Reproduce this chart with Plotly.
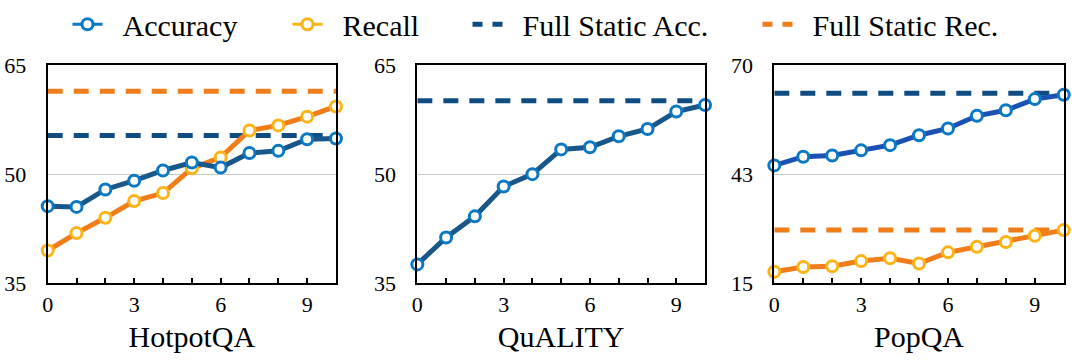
import plotly.graph_objects as go

steps = list(range(11))
tick_labels_x = ["0", "", "", "3", "", "", "6", "", "", "9", ""]

hotpot_acc = [45.6, 45.5, 47.9, 49.1, 50.5, 51.6, 50.9, 52.9, 53.2, 54.8, 54.9]
hotpot_rec = [39.5, 41.9, 44.0, 46.3, 47.4, 50.8, 52.3, 56.0, 56.7, 57.9, 59.3]
hotpot_full_acc = 55.3
hotpot_full_rec = 61.4

quality_acc = [37.6, 41.3, 44.2, 48.3, 50.0, 53.4, 53.7, 55.2, 56.2, 58.6, 59.5]
quality_full_acc = 60.1

popqa_acc = [44.7, 46.9, 47.2, 48.5, 49.8, 52.3, 54.0, 57.2, 58.6, 61.4, 62.5]
popqa_rec = [17.9, 19.1, 19.3, 20.6, 21.3, 20.0, 22.8, 24.2, 25.4, 27.0, 28.4]
popqa_full_acc = 62.9
popqa_full_rec = 28.4

panel_titles = ["HotpotQA", "QuALITY", "PopQA"]
y_ranges = [[35, 65], [35, 65], [15, 70]]
y_tickvals = [[35, 50, 65], [35, 50, 65], [15, 42.5, 70]]
y_ticktext = [["35", "50", "65"], ["35", "50", "65"], ["15", "43", "70"]]

legend_names = ["Accuracy", "Recall", "Full Static Acc.", "Full Static Rec."]

ACC_LINE = "#17578a"
ACC_LINE_POP = "#1a52b3"
ACC_MARK = "#0a78c2"
REC_LINE = "#f07d1a"
REC_MARK = "#fcb316"
FULL_ACC = "#0f4c81"
FULL_REC = "#f07d1a"
FONT = "Liberation Serif"

domains = [[0.0445, 0.3134], [0.3893, 0.6577], [0.7223, 0.9923]]
ydom = [0.2152, 0.82]

fig = go.Figure()

def series(i, vals, line_c, mark_c):
    ax = "" if i == 0 else str(i + 1)
    fig.add_trace(go.Scatter(
        x=steps, y=vals, mode="lines+markers", showlegend=False,
        line=dict(color=line_c, width=5),
        marker=dict(size=11, color="white", line=dict(color=mark_c, width=3)),
        cliponaxis=False, xaxis="x" + ax, yaxis="y" + ax))

def full(i, val, c):
    ax = "" if i == 0 else str(i + 1)
    fig.add_trace(go.Scatter(
        x=[steps[0], steps[-1]], y=[val, val], mode="lines", showlegend=False,
        line=dict(color=c, width=5, dash="15px,11px"),
        xaxis="x" + ax, yaxis="y" + ax))

full(0, hotpot_full_rec, FULL_REC)
full(0, hotpot_full_acc, FULL_ACC)
full(1, quality_full_acc, FULL_ACC)
full(2, popqa_full_acc, FULL_ACC)
full(2, popqa_full_rec, FULL_REC)

series(0, hotpot_rec, REC_LINE, REC_MARK)
series(0, hotpot_acc, ACC_LINE, ACC_MARK)
series(1, quality_acc, ACC_LINE, ACC_MARK)
series(2, popqa_rec, REC_LINE, REC_MARK)
series(2, popqa_acc, ACC_LINE_POP, ACC_MARK)

leg_x = [67.5 / 1072, 287.5 / 1072, 467.5 / 1072, 757.5 / 1072]
leg_specs = [
    dict(mode="lines+markers", line=dict(color=ACC_MARK, width=3),
         marker=dict(size=11, color="white", line=dict(color=ACC_MARK, width=3))),
    dict(mode="lines+markers", line=dict(color=REC_MARK, width=3),
         marker=dict(size=11, color="white", line=dict(color=REC_MARK, width=3))),
    dict(mode="lines", line=dict(color=FULL_ACC, width=5, dash="10px,10px")),
    dict(mode="lines", line=dict(color=FULL_REC, width=5, dash="10px,10px")),
]
for k, (name, spec) in enumerate(zip(legend_names, leg_specs)):
    lg = "legend" if k == 0 else "legend%d" % (k + 1)
    fig.add_trace(go.Scatter(x=[None], y=[None], name="\u00a0\u00a0" + name,
                             showlegend=True, legend=lg, **spec))

layout = dict(
    width=1072, height=361, margin=dict(l=0, r=0, t=0, b=0, autoexpand=False),
    plot_bgcolor="white", paper_bgcolor="white",
    font=dict(family=FONT, color="black", size=22),
)
for k in range(4):
    lg = "legend" if k == 0 else "legend%d" % (k + 1)
    layout[lg] = dict(x=leg_x[k], y=1.005, xanchor="left", yanchor="top",
                      orientation="h", font=dict(family=FONT, size=30),
                      bgcolor="rgba(0,0,0,0)", itemwidth=30)

for i in range(3):
    ax = "" if i == 0 else str(i + 1)
    layout["xaxis" + ax] = dict(
        domain=domains[i], anchor="y" + ax, range=[0, 10],
        tickvals=steps, ticktext=tick_labels_x, ticks="inside", ticklen=5,
        tickwidth=1.5, tickcolor="black", showline=True, linecolor="black",
        linewidth=2, mirror=True, showgrid=False, zeroline=False,
        tickfont=dict(family=FONT, size=22), automargin=False,
        title=dict(text=panel_titles[i], font=dict(family=FONT, size=30), standoff=10),
    )
    layout["yaxis" + ax] = dict(
        domain=ydom, anchor="x" + ax, range=y_ranges[i],
        tickvals=y_tickvals[i], ticktext=y_ticktext[i], ticks="",
        showline=True, linecolor="black", linewidth=2, mirror=True,
        showgrid=True, gridcolor="#c8c8c8", gridwidth=1, zeroline=False,
        tickfont=dict(family=FONT, size=22), ticklabelstandoff=15, automargin=False,
    )

fig.update_layout(**layout)
fig.write_html("out.html")
